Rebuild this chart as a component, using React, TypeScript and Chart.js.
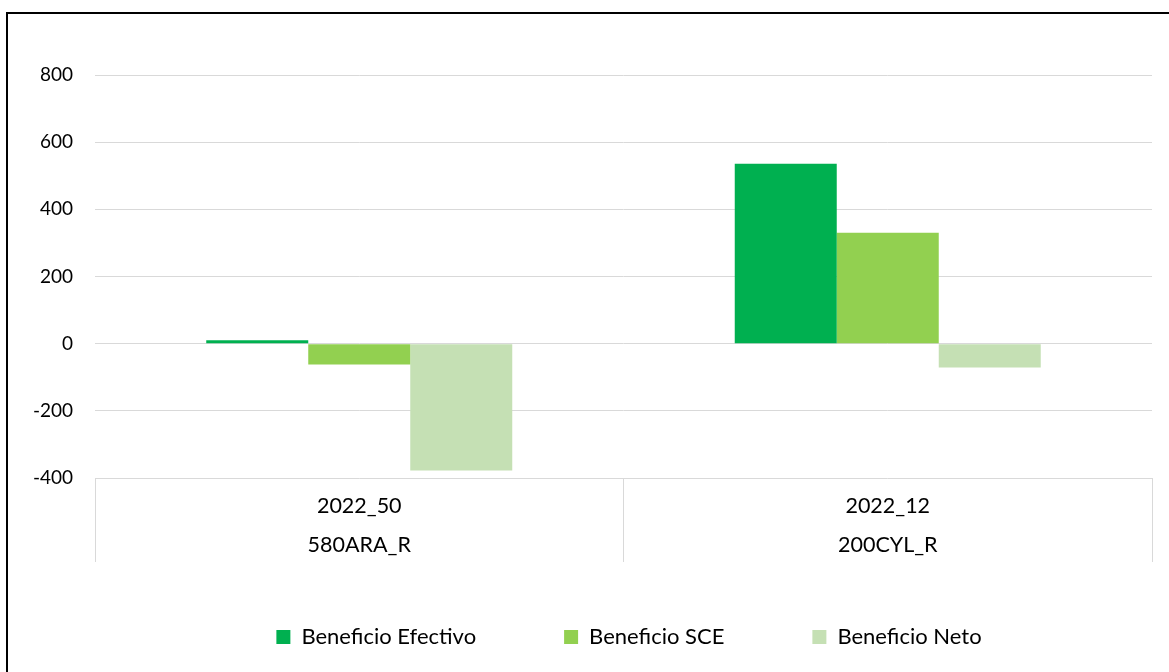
import React, { useEffect, useRef } from "react";
import { Chart, registerables } from "chart.js";

Chart.register(...registerables);

const periods = ["2022_50", "2022_12"];
const codes = ["580ARA_R", "200CYL_R"];
const seriesNames = ["Beneficio Efectivo", "Beneficio SCE", "Beneficio Neto"];
const efectivo = [10, 536];
const sce = [-62, 330];
const neto = [-378, -71];
const seriesColors = ["#00B050", "#92D050", "#C5E0B4"];
const yTicks = { min: -400, max: 800, step: 200 };

const FONT = "Lato, 'DejaVu Sans', sans-serif";

const legendShift = {
  id: "legendShift",
  afterLayout(chart: any) {
    const l = chart.legend;
    if (l) {
      l.left += 49;
      l.right += 49;
      l.top -= 26;
    }
  },
};

export default function App() {
  const ref = useRef<HTMLCanvasElement | null>(null);

  useEffect(() => {
    document.body.style.overflow = "hidden";
    const canvas = ref.current;
    if (!canvas) return;
    const labels = periods.map((p, i) => [p, codes[i]]);
    const values = [efectivo, sce, neto];
    const chart = new Chart(canvas, {
      type: "bar",
      data: {
        labels,
        datasets: seriesNames.map((name, i) => ({
          label: name,
          data: values[i],
          backgroundColor: seriesColors[i],
          borderWidth: 0,
          barPercentage: 1,
          categoryPercentage: 0.579,
        })),
      },
      plugins: [legendShift],
      options: {
        responsive: false,
        animation: false,
        maintainAspectRatio: false,
        layout: { padding: { left: 0, right: 17, top: 61, bottom: 8 } },
        plugins: {
          tooltip: { enabled: false },
          legend: {
            position: "bottom",
            maxHeight: 100,
            labels: {
              boxWidth: 14,
              boxHeight: 14,
              padding: 88,
              color: "#000",
              font: { family: FONT, size: 22 },
            },
          },
        },
        scales: {
          x: {
            afterFit: (s: any) => {
              s.height = 86;
            },
            border: { display: false },
            grid: {
              offset: true,
              drawOnChartArea: false,
              drawTicks: true,
              tickLength: 84,
              color: "#d9d9d9",
              lineWidth: 1,
            },
            ticks: {
              padding: -75.5,
              color: "#000",
              maxRotation: 0,
              font: { family: FONT, size: 21.5, lineHeight: "39px" },
            },
          },
          y: {
            min: yTicks.min,
            max: yTicks.max,
            afterFit: (s: any) => {
              s.width = 87;
            },
            border: { display: false },
            grid: { color: "#d9d9d9", lineWidth: 1, drawTicks: false },
            ticks: {
              stepSize: yTicks.step,
              padding: 22,
              color: "#000",
              font: { family: FONT, size: 19 },
            },
          },
        },
      },
    });
    return () => chart.destroy();
  }, []);

  return (
    <div
      style={{
        position: "fixed",
        left: 6,
        top: 12,
        width: 1161,
        height: 658,
        borderTop: "2px solid #000",
        borderLeft: "2px solid #000",
        background: "#fff",
      }}
    >
      <canvas ref={ref} width={1161} height={658} style={{ display: "block" }} />
    </div>
  );
}
